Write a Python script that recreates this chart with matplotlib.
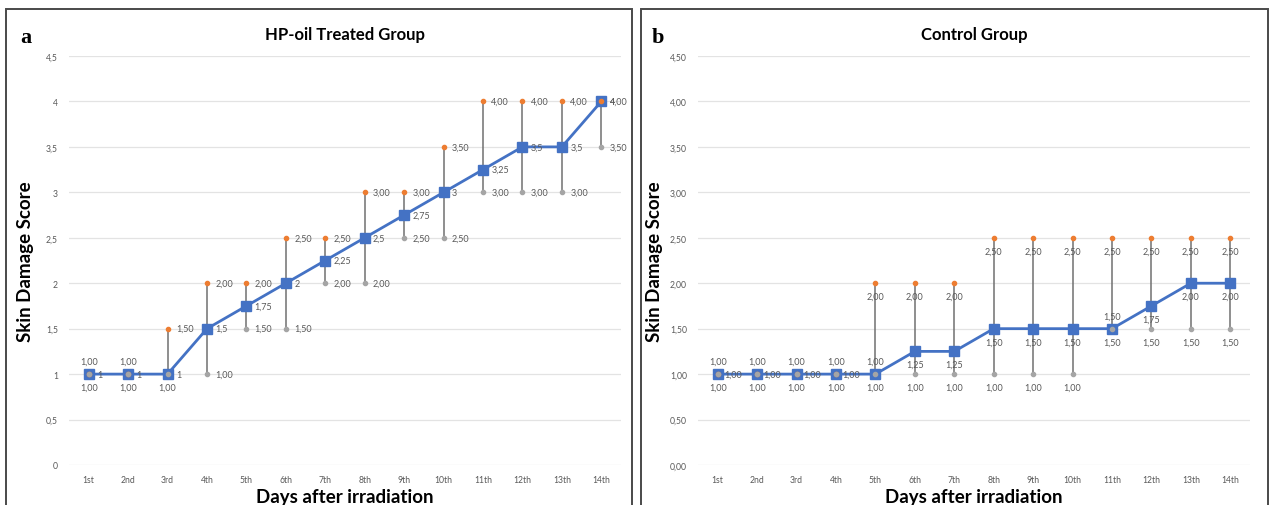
import matplotlib.pyplot as plt
from matplotlib.patches import Rectangle

plt.rcParams['font.family'] = ['Lato', 'DejaVu Sans']

days = ['1st', '2nd', '3rd', '4th', '5th', '6th', '7th',
        '8th', '9th', '10th', '11th', '12th', '13th', '14th']

# HP-oil treated group
a_max = [1, 1, 1.5, 2, 2, 2.5, 2.5, 3, 3, 3.5, 4, 4, 4, 4]
a_min = [1, 1, 1, 1, 1.5, 1.5, 2, 2, 2.5, 2.5, 3, 3, 3, 3.5]
a_mean = [1, 1, 1, 1.5, 1.75, 2, 2.25, 2.5, 2.75, 3, 3.25, 3.5, 3.5, 4]
a_yticks = [0, 0.5, 1, 1.5, 2, 2.5, 3, 3.5, 4, 4.5]

# control group
b_max = [1, 1, 1, 1, 2, 2, 2, 2.5, 2.5, 2.5, 2.5, 2.5, 2.5, 2.5]
b_min = [1, 1, 1, 1, 1, 1, 1, 1, 1, 1, 1.5, 1.5, 1.5, 1.5]
b_mean = [1, 1, 1, 1, 1, 1.25, 1.25, 1.5, 1.5, 1.5, 1.5, 1.75, 2, 2]
b_yticks = [0, 0.5, 1, 1.5, 2, 2.5, 3, 3.5, 4, 4.5]

BLUE = '#4472C4'
ORANGE = '#ED7D31'
GREY = '#A5A5A5'
TXT = '#595959'

W, H = 1271, 506
fig = plt.figure(figsize=(W / 100, H / 100), dpi=100)


def f2(v):
    return ('%.2f' % v).replace('.', ',')


def fg(v):
    return ('%g' % v).replace('.', ',')


def lab(ax, x, y, s, where):
    off = {'right': (6, 0, 'left', 'center'),
           'above': (0, 9, 'center', 'center'),
           'below': (0, -9.5, 'center', 'center'),
           'rightc': (11, 0, 'center', 'center')}[where]
    ax.annotate(s, (x, y), xytext=off[:2], textcoords='offset points',
                ha=off[2], va=off[3], fontsize=6.5, color=TXT, zorder=6)


def panel(left, hi, lo, mid, yticks, ytfmt, title, style):
    ax = fig.add_axes([left / W, 1 - 466 / H, 552 / W, 409 / H])
    x = list(range(len(days)))
    ax.vlines(x, lo, hi, color='#707070', lw=1.1, zorder=2)
    ax.plot(x, mid, color=BLUE, lw=2, marker='s', ms=7.5, zorder=3)
    ax.plot(x, hi, ls='none', marker='o', ms=3, color=ORANGE, zorder=4)
    ax.plot(x, lo, ls='none', marker='o', ms=3, color=GREY, zorder=4)

    for i in x:
        if style == 'a':
            lab(ax, i, hi[i], f2(hi[i]), 'above' if hi[i] == lo[i] else 'right')
            lab(ax, i, mid[i], fg(mid[i]), 'right')
            lab(ax, i, lo[i], f2(lo[i]), 'below' if lo[i] == mid[i] else 'right')
        else:
            lab(ax, i, hi[i], f2(hi[i]), 'rightc' if hi[i] == lo[i] else 'below')
            lab(ax, i, mid[i], f2(mid[i]), 'above' if mid[i] == lo[i] else 'below')
            lab(ax, i, lo[i], f2(lo[i]), 'below')

    ax.set_xlim(-0.5, len(days) - 0.5)
    ax.set_ylim(0, 4.5)
    ax.set_yticks(yticks)
    ax.set_yticklabels([ytfmt(v) for v in yticks])
    ax.set_xticks(x)
    ax.set_xticklabels(days)
    ax.tick_params(length=0, labelsize=6.2, labelcolor=TXT)
    ax.tick_params(axis='x', pad=7)
    ax.tick_params(axis='y', pad=8)
    for s in ax.spines.values():
        s.set_visible(False)
    ax.grid(axis='y', color='#e3e3e3', lw=0.9, zorder=0)
    ax.set_axisbelow(True)

    ax.text(0.5, 1.054, title, transform=ax.transAxes, ha='center',
            va='center', fontsize=12, fontweight='bold')
    ax.set_ylabel('Skin Damage Score', fontsize=13.5, fontweight='bold')
    ax.set_xlabel('Days after irradiation', fontsize=13.5, fontweight='bold')
    ax.yaxis.set_label_coords(-0.064, 0.5)
    ax.xaxis.set_label_coords(0.5, -0.056)
    return ax


panel(69, a_max, a_min, a_mean, a_yticks, fg, 'HP-oil Treated Group', 'a')
panel(698, b_max, b_min, b_mean, b_yticks, f2, 'Control Group', 'b')

# panel frames
for x0, x1 in [(6, 632), (641, 1268)]:
    fig.add_artist(Rectangle((x0 / W, -0.02), (x1 - x0) / W, 1 - 10 / H + 0.02,
                             transform=fig.transFigure, fill=False,
                             ec='#4a4a4a', lw=1.4))

fig.text(20 / W, 1 - 38 / H, 'a', family='Liberation Serif', fontweight='bold',
         fontsize=16, ha='left', va='center')
fig.text(652 / W, 1 - 38 / H, 'b', family='Liberation Serif', fontweight='bold',
         fontsize=16, ha='left', va='center')

fig.savefig('out.png', dpi=100)
